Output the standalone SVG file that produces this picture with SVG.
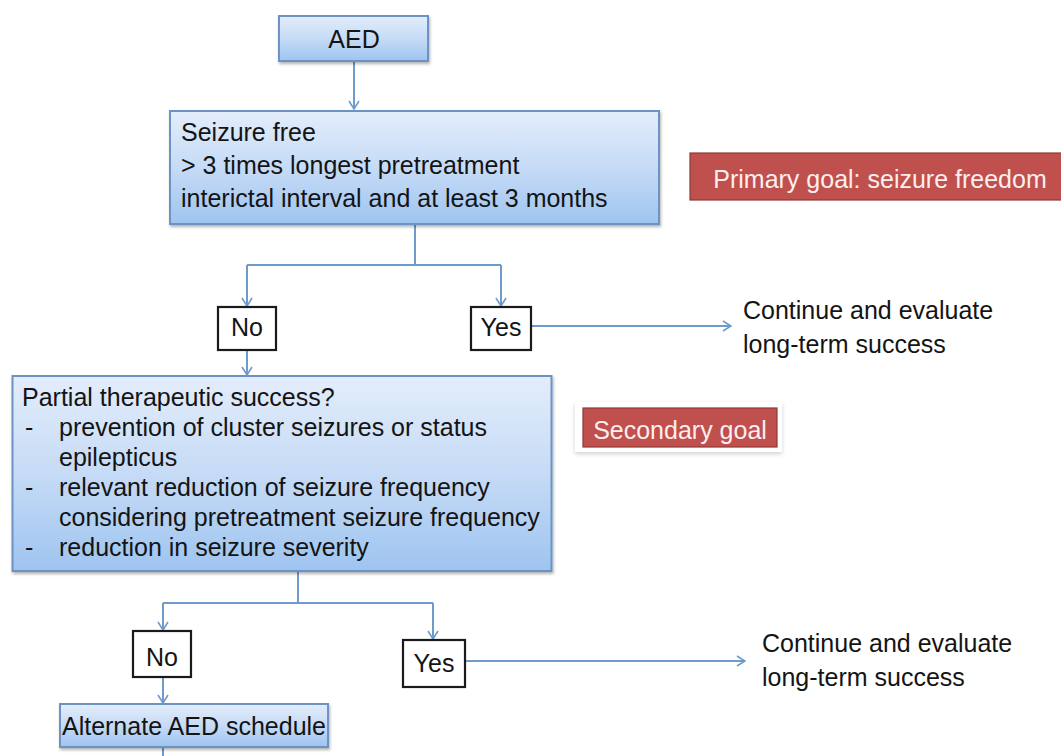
<svg xmlns="http://www.w3.org/2000/svg" width="1061" height="756" viewBox="0 0 1061 756">
<defs>
<linearGradient id="blue" x1="0" y1="0" x2="0" y2="1">
<stop offset="0" stop-color="#e3edfb"/>
<stop offset="0.5" stop-color="#c6dbf6"/>
<stop offset="1" stop-color="#9ec4f0"/>
</linearGradient>
<filter id="sh" x="-5%" y="-10%" width="110%" height="130%">
<feDropShadow dx="1" dy="2" stdDeviation="1.5" flood-color="#000" flood-opacity="0.3"/>
</filter>
<filter id="sh2" x="-10%" y="-20%" width="120%" height="150%">
<feDropShadow dx="0" dy="2" stdDeviation="2" flood-color="#000" flood-opacity="0.18"/>
</filter>
<marker id="ah" viewBox="0 0 10 12" refX="9" refY="6" markerWidth="10" markerHeight="12" markerUnits="userSpaceOnUse" orient="auto">
<path d="M1,1 L9,6 L1,11" fill="none" stroke="#6f9bcc" stroke-width="1.6"/>
</marker>
</defs>
<style>
text{font-family:"Liberation Sans",Arial,sans-serif;font-size:25px;fill:#141414}
.bx{fill:url(#blue);stroke:#6c93c4;stroke-width:2;filter:url(#sh)}
.wb{fill:#fff;stroke:#1a1a1a;stroke-width:2.2}
.red{fill:#c0504d;stroke:#8c3a37;stroke-width:1.2}
.c{text-anchor:middle}
.ln{fill:none;stroke:#6f9bcc;stroke-width:2}
.ar{marker-end:url(#ah)}
</style>
<rect width="1061" height="756" fill="#fff"/>
<g id="connectors">
<path class="ln ar" d="M354,62 V109"/>
<path class="ln" d="M415,225 V265 M247,265 H501"/>
<path class="ln ar" d="M247,265 V306"/>
<path class="ln ar" d="M501,265 V306"/>
<path class="ln ar" d="M531,326 H731"/>
<path class="ln ar" d="M247,351 V375"/>
<path class="ln" d="M298,572 V603 M163,603 H433"/>
<path class="ln ar" d="M163,603 V630"/>
<path class="ln ar" d="M433,603 V639"/>
<path class="ln ar" d="M465,661 H745"/>
<path class="ln ar" d="M163,678 V703"/>
<path class="ln" d="M163,748 V756"/>
</g>
<g id="aed">
<rect class="bx" x="279" y="16" width="149" height="45"/>
<text class="c" x="354" y="48">AED</text>
</g>
<g id="seizure-free">
<rect class="bx" x="170" y="111" width="489" height="113"/>
<text x="181" y="141">Seizure free</text>
<text x="181" y="174">&gt; 3 times longest pretreatment</text>
<text x="181" y="207">interictal interval and at least 3 months</text>
</g>
<g id="primary-goal">
<rect class="red" x="690" y="153" width="380" height="47"/>
<text class="c" x="880" y="188" style="fill:#fbeeee">Primary goal: seizure freedom</text>
</g>
<g id="no1">
<rect class="wb" x="218" y="307" width="58" height="43"/>
<text class="c" x="247" y="336">No</text>
</g>
<g id="yes1">
<rect class="wb" x="471" y="307" width="60" height="43"/>
<text class="c" x="501" y="336">Yes</text>
</g>
<g id="continue1">
<text x="743" y="319">Continue and evaluate</text>
<text x="743" y="353">long-term success</text>
</g>
<g id="partial">
<rect class="bx" x="12.5" y="376" width="539" height="195"/>
<text x="22" y="406">Partial therapeutic success?</text>
<text x="25" y="436">-</text>
<text x="59" y="436">prevention of cluster seizures or status</text>
<text x="59" y="466">epilepticus</text>
<text x="25" y="496">-</text>
<text x="59" y="496">relevant reduction of seizure frequency</text>
<text x="59" y="526">considering pretreatment seizure frequency</text>
<text x="25" y="556">-</text>
<text x="59" y="556">reduction in seizure severity</text>
</g>
<g id="secondary-goal">
<rect x="575" y="402" width="207" height="50" fill="#fff" filter="url(#sh2)"/>
<rect class="red" x="583" y="408" width="194" height="39" stroke="none"/>
<text class="c" x="680" y="439" style="fill:#fbeeee">Secondary goal</text>
</g>
<g id="no2">
<rect class="wb" x="133" y="631" width="58" height="46"/>
<text class="c" x="162" y="666">No</text>
</g>
<g id="yes2">
<rect class="wb" x="403" y="640" width="62" height="47"/>
<text class="c" x="434" y="672">Yes</text>
</g>
<g id="continue2">
<text x="762" y="652">Continue and evaluate</text>
<text x="762" y="686">long-term success</text>
</g>
<g id="alternate">
<rect class="bx" x="60" y="704" width="268" height="43"/>
<text class="c" x="194" y="735">Alternate AED schedule</text>
</g>
</svg>
